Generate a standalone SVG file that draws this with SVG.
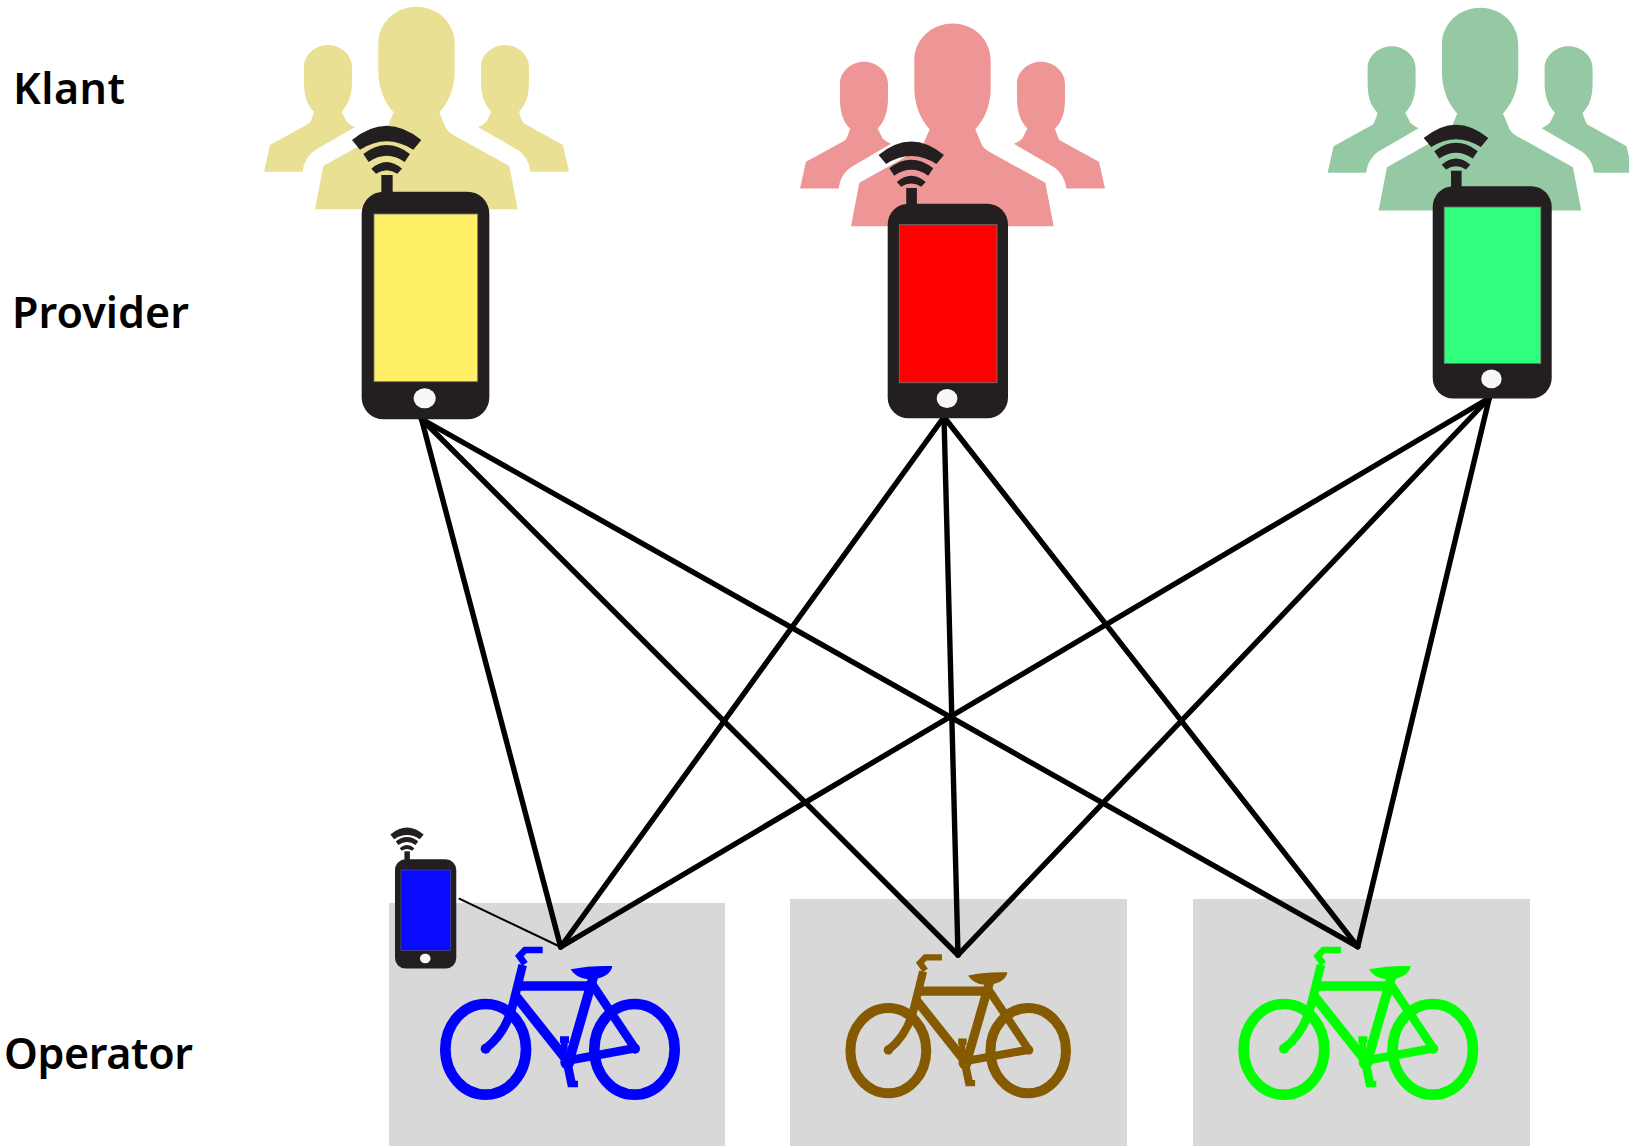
<svg xmlns="http://www.w3.org/2000/svg" xmlns:xlink="http://www.w3.org/1999/xlink" width="1629" height="1146" viewBox="0 0 1629 1146">
<style>
text{font-family:"Noto Sans","Open Sans","Liberation Sans",sans-serif;font-size:43px;font-weight:600;fill:#000}
.plate{fill:#d8d8d8}
.link{stroke:#000;stroke-width:5.4;stroke-linecap:round;fill:none}
.thin{stroke:#000;stroke-width:2;fill:none}
.body{fill:#231f20}
.screen{stroke:#777;stroke-width:2.5}
.btn{fill:#f7f7f7}
.w{fill:none;stroke:currentColor;stroke-width:32}
.t{fill:none;stroke:currentColor;stroke-width:29}
.s{fill:none;stroke:currentColor;stroke-width:26}
.h{fill:none;stroke:currentColor;stroke-width:20}
.f{fill:currentColor}
</style>
<defs>
<g id="people">
<path id="side" d="M192,200C192,165 225,135 264,135C303,135 336,165 336,200L336,245C336,285 325,315 305,335L320,365Q330,375 345,381L235,445C210,458 192,480 188,515L72,515L90,435L208,370Q215,360 222,335C200,315 192,285 192,245Z"/>
<use xlink:href="#side" href="#side" transform="translate(1059,0) scale(-1,1)"/>
<path d="M415,130C415,70 465,20 530,20C595,20 644,70 644,130L644,215C644,265 625,310 598,337L618,385Q625,397 640,405L808,498L833,628L225,628L250,498L425,400Q437,395 445,375L461,337C435,310 415,265 415,215Z"/>
</g>
<g id="phone">
<rect class="body" x="424" y="525" width="34" height="70"/>
<path class="body" d="M336,420Q440,334 544,420L520,449Q440,398 360,449Z"/>
<path class="body" d="M370,462Q440,408 510,462L494,486Q440,448 386,486Z"/>
<path class="body" d="M394,506Q440,466 486,506L472,521Q440,500 408,521Z"/>
<rect class="body" x="365" y="575" width="383" height="683" rx="66" ry="66"/>
<ellipse class="btn" cx="554" cy="1195" rx="33" ry="30"/>
</g>
<g id="bike">
<ellipse class="w" cx="347" cy="718" rx="121" ry="136"/>
<ellipse class="w" cx="793.5" cy="718" rx="120.500" ry="136"/>
<path class="t" d="M440,528L668,528"/>
<path class="s" d="M458,465L432,570Q412,665 347,716"/>
<path class="t" d="M435,555L590,750"/>
<path class="t" d="M670,500L598,750"/>
<path class="s" d="M668,525L795,715"/>
<path class="s" d="M590,752L795,715"/>
<circle class="f" cx="347" cy="716" r="15"/>
<circle class="f" cx="795" cy="716" r="15"/>
<circle class="f" cx="592" cy="757" r="21"/>
<path class="h" d="M518,420L465,420L448,438L465,462"/>
<path class="f" d="M602,478Q660,466 727,468C724,490 700,505 670,507L650,507C630,505 612,495 602,478Z"/>
<path class="s" d="M592,760L605,822"/>
<path class="h" d="M593,822L624,822M570,689L597,689"/>
<path class="h" d="M583,689L583,725"/>
</g>
</defs>

<g id="plates">
<rect class="plate" x="389" y="903" width="336" height="243"/>
<rect class="plate" x="790" y="899" width="337" height="247"/>
<rect class="plate" x="1193" y="899" width="337" height="247"/>
</g>

<g id="customers-yellow" transform="translate(240,0) scale(.33333)" fill="#eae094"><use xlink:href="#people" href="#people"/></g>
<g id="customers-red" transform="translate(776,16.8) scale(.33333)" fill="#ee9696"><use xlink:href="#people" href="#people"/></g>
<g id="customers-green" transform="translate(1303.6,1.2) scale(.33333)" fill="#94c9a3"><use xlink:href="#people" href="#people"/></g>

<g id="connectors">
<line class="link" x1="421.5" y1="419" x2="560.7" y2="947"/>
<line class="link" x1="421.5" y1="419" x2="958" y2="955"/>
<line class="link" x1="421.5" y1="419" x2="1357.7" y2="946.7"/>
<line class="link" x1="944" y1="417" x2="560.7" y2="947"/>
<line class="link" x1="944" y1="417" x2="958" y2="955"/>
<line class="link" x1="944" y1="417" x2="1357.7" y2="946.7"/>
<line class="link" x1="1489.3" y1="398" x2="560.7" y2="947"/>
<line class="link" x1="1489.3" y1="398" x2="958" y2="955"/>
<line class="link" x1="1489.3" y1="398" x2="1357.7" y2="946.7"/>
<line class="thin" x1="458.7" y1="898.3" x2="560.7" y2="947"/>
</g>

<g id="phone-yellow" transform="translate(240,0) scale(.33333)"><use xlink:href="#phone" href="#phone"/><rect class="screen" x="402" y="642" width="311" height="503" fill="#ffef66"/></g>
<g id="phone-red" transform="translate(773,23) scale(.3142)"><use xlink:href="#phone" href="#phone"/><rect class="screen" x="402" y="642" width="311" height="503" fill="#ff0000"/></g>
<g id="phone-green" transform="translate(1319.3,7.6) scale(.3107)"><use xlink:href="#phone" href="#phone"/><rect class="screen" x="402" y="642" width="311" height="503" fill="#30ff7e"/></g>
<g id="phone-blue" transform="translate(336.6,767.3) scale(.16)"><use xlink:href="#phone" href="#phone"/><rect class="screen" x="402" y="642" width="311" height="503" fill="#0a0aff"/></g>

<g id="bike-blue" transform="translate(370,810) scale(.33333)" style="color:#0000ff"><use xlink:href="#bike" href="#bike"/></g>
<g id="bike-brown" transform="translate(779.6,825.7) scale(.3133)" style="color:#855a00"><use xlink:href="#bike" href="#bike"/></g>
<g id="bike-green" transform="translate(1168.3,810) scale(.33333)" style="color:#00ff00"><use xlink:href="#bike" href="#bike"/></g>

<g id="labels">
<text id="label-klant" x="13" y="104" textLength="112">Klant</text>
<text id="label-provider" x="12" y="327.500" textLength="177">Provider</text>
<text id="label-operator" x="4" y="1069" textLength="189">Operator</text>
</g>
</svg>
